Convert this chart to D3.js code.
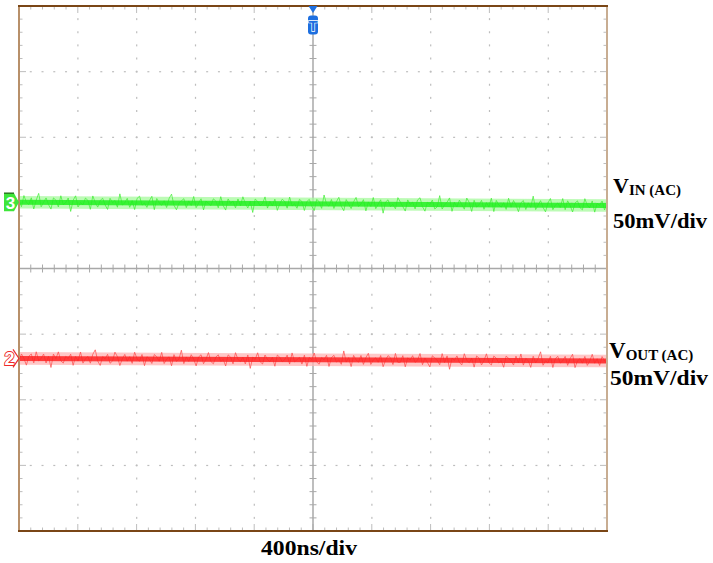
<!DOCTYPE html>
<html><head><meta charset="utf-8">
<script src="https://cdn.jsdelivr.net/npm/d3@7"></script>
<style>html,body{margin:0;padding:0;background:#fff;}svg{display:block;}</style>
</head><body>
<script>
// ---- data ----
const timeDomain = [-2000, 2000];          // ns, 400 ns/div, 10 divisions
const voltDomain = [-200, 200];            // mV, 50 mV/div, 8 divisions
const timeStep = 400, timeMinor = 80;
const voltStep = 50, voltMinor = 10;
const meanTimes = [-2000, 2000];
const vinMean = [50.5, 48];                // CH3 trace level (mV on screen)
const voutMean = [-68.5, -70.5];           // CH2 trace level
const vinNoise = [1,-2,3,0,-1,2,-3,1,4,-2,0,2,-1,-3,2,1,-2,3,-1,0,
 2,-4,1,3,-2,0,-1,2,1,-3,3,0,-2,1,2,-1,-3,2,0,1,
 -2,4,-1,0,2,-2,1,-3,2,3,-1,0,-2,1,3,-3,2,0,-1,1,
 -2,2,4,-1,-3,0,1,2,-2,1,-1,3,-2,0,2,-3,1,0,-1,2,
 1,-2,3,-1,-3,2,0,1,-2,2,-1,3,0,-2,1,-4,2,1,-1,0,
 3,-2,1,-1,2,-3,0,2,1,-2,3,-1,0,-2,2,1,-3,1,2,-1,
 -3,2,1,-2,4,0,-1,2,-2,1,3,-1,-3,2,0,-2,1,3,-1,0,
 2,-3,1,-1,3,-2,0,2,-4,1,2,-1,0,-2,3,1,-1,-3,2,0,
 1,-2,2,3,-1,-3,1,0,2,-2,-1,4,-2,0,1,3,-3,1,-1,2,
 0,-2,3,1,-3,2,-1,0,2,-2,1,-1,3,-3,2,0,-1,1,-2,3,
 -1,2,0,-3,1,2,-2,1,-1,4,-2,0,2,-1,-3,1,3,-2,0,1,
 -1,3,-2,2,0,-3,1,2,-1,-2,3,0,-1,2,-3,1,0,2,-2,1];
const voutNoise = [-1,2,0,-3,1,2,-2,3,-1,0,2,-2,1,-4,2,0,3,-1,-2,1,
 0,2,-3,1,-1,3,-2,0,1,-2,2,4,-1,-3,1,0,2,-2,-1,3,
 1,-3,0,2,-1,1,-2,3,0,-1,2,-3,1,0,-2,2,1,-1,3,-2,
 0,1,-3,2,-1,0,4,-2,1,-1,2,0,-3,1,2,-2,0,3,-1,-2,
 1,2,-1,0,-3,2,1,-2,3,0,-1,1,-2,2,-4,1,0,3,-1,-2,
 2,0,-1,1,-3,2,1,-1,0,2,-2,3,-1,0,1,-2,2,-3,1,0,
 3,-1,-2,1,0,2,-3,1,2,-1,0,-2,4,-1,1,-3,2,0,-1,2,
 -2,1,3,-2,0,1,-1,2,-3,0,2,1,-2,3,-1,-1,2,-3,1,0,
 2,-1,0,3,-2,1,-1,-3,2,1,0,-2,3,-1,2,-4,1,0,2,-1,
 -2,3,0,-1,1,-3,2,1,-2,0,3,-1,-2,2,1,-1,0,-3,2,1,
 0,-2,2,-1,3,-2,1,0,-3,2,-1,1,4,-2,0,-1,2,-3,1,2,
 -1,0,2,-2,1,3,-3,0,1,-1,2,-2,0,3,-1,1,-2,2,0,-1];
const labels = {vin:["V","IN (AC)"], vout:["V","OUT (AC)"], scale:"50mV/div", time:"400ns/div"};

// ---- drawing ----
const W = 713, H = 563;
const svg = d3.select("body").append("svg").attr("width", W).attr("height", H);
const x = d3.scaleLinear().domain(timeDomain).range([19, 607]);
const y = d3.scaleLinear().domain(voltDomain).range([531, 6]);

const majT = d3.range(timeDomain[0], timeDomain[1] + 1, timeStep);
const minT = d3.range(timeDomain[0], timeDomain[1] + 1, timeMinor);
const majV = d3.range(voltDomain[0], voltDomain[1] + 1, voltStep);
const minV = d3.range(voltDomain[0], voltDomain[1] + 1, voltMinor);

const grid = svg.append("g").attr("fill", "#bdbdbd");
majT.filter(t => t !== 0 && t !== timeDomain[0] && t !== timeDomain[1]).forEach(t => {
  minV.forEach(v => grid.append("rect").attr("x", x(t) - 0.5).attr("y", y(v) - 1).attr("width", 1.2).attr("height", 2));
});
majV.filter(v => v !== 0 && v !== voltDomain[0] && v !== voltDomain[1]).forEach(v => {
  minT.forEach(t => grid.append("rect").attr("x", x(t) - 1).attr("y", y(v) - 0.5).attr("width", 2).attr("height", 1.2));
});
const tk = svg.append("g").attr("stroke", "#bdbdbd").attr("stroke-width", 1);
minT.forEach(t => {
  const L = majT.includes(t) ? 7 : 3.5;
  tk.append("line").attr("x1", x(t)).attr("x2", x(t)).attr("y1", y(voltDomain[1])).attr("y2", y(voltDomain[1]) + L);
  tk.append("line").attr("x1", x(t)).attr("x2", x(t)).attr("y1", y(voltDomain[0])).attr("y2", y(voltDomain[0]) - L);
});
minV.forEach(v => {
  const L = majV.includes(v) ? 7 : 3.5;
  tk.append("line").attr("y1", y(v)).attr("y2", y(v)).attr("x1", x(timeDomain[0])).attr("x2", x(timeDomain[0]) + L);
  tk.append("line").attr("y1", y(v)).attr("y2", y(v)).attr("x1", x(timeDomain[1])).attr("x2", x(timeDomain[1]) - L);
});
const ax = svg.append("g").attr("stroke", "#a8a8a8");
ax.append("line").attr("x1", x(0)).attr("x2", x(0)).attr("y1", y(voltDomain[1])).attr("y2", y(voltDomain[0])).attr("stroke-width", 1.5);
ax.append("line").attr("y1", y(0)).attr("y2", y(0)).attr("x1", x(timeDomain[0])).attr("x2", x(timeDomain[1])).attr("stroke-width", 1.5);
minT.forEach(t => ax.append("line").attr("x1", x(t)).attr("x2", x(t)).attr("y1", y(0) - 4).attr("y2", y(0) + 4));
minV.forEach(v => ax.append("line").attr("y1", y(v)).attr("y2", y(v)).attr("x1", x(0) - 3.5).attr("x2", x(0) + 3.5));

// traces
function trace(noise, meanVals, light, mid, core) {
  const base = d3.scaleLinear().domain(meanTimes).range(meanVals);
  const tAt = d3.scaleLinear().domain([0, noise.length - 1]).range(timeDomain);
  const g = svg.append("g");
  g.append("path").datum(meanTimes)
    .attr("d", d3.area().x(t => x(t)).y0(t => y(base(t) - 4.8)).y1(t => y(base(t) + 4.8)))
    .attr("fill", light).attr("opacity", 0.75);
  g.append("path").datum(noise)
    .attr("d", d3.line().x((d, i) => x(tAt(i))).y((d, i) => y(base(tAt(i)) + d * 1.7)))
    .attr("fill", "none").attr("stroke", mid).attr("stroke-width", 0.9).attr("opacity", 0.85);
  g.append("path").datum(meanTimes)
    .attr("d", d3.line().x(t => x(t)).y(t => y(base(t))))
    .attr("fill", "none").attr("stroke", core).attr("stroke-width", 5).attr("opacity", 0.85);
}
trace(vinNoise, vinMean, "#a6fa9c", "#44ee38", "#22f020");
trace(voutNoise, voutMean, "#ffb4b4", "#ff5050", "#ff2222");

// border
svg.append("line").attr("x1", x(timeDomain[0])).attr("x2", x(timeDomain[0])).attr("y1", y(voltDomain[1])).attr("y2", y(voltDomain[0])).attr("stroke", "#b8906a").attr("stroke-width", 2);
svg.append("line").attr("x1", x(timeDomain[1])).attr("x2", x(timeDomain[1])).attr("y1", y(voltDomain[1])).attr("y2", y(voltDomain[0])).attr("stroke", "#c8ad92").attr("stroke-width", 2);
svg.append("line").attr("x1", x(timeDomain[0]) - 1).attr("x2", x(timeDomain[1]) + 1).attr("y1", y(voltDomain[1])).attr("y2", y(voltDomain[1])).attr("stroke", "#7a4616").attr("stroke-width", 2);
svg.append("line").attr("x1", x(timeDomain[0]) - 1).attr("x2", x(timeDomain[1]) + 1).attr("y1", y(voltDomain[0])).attr("y2", y(voltDomain[0])).attr("stroke", "#7a4616").attr("stroke-width", 2);

// channel markers
const y3 = y(vinMean[0]), y2 = y(voutMean[0]);
svg.append("path").attr("d", `M4,${y3 - 9} L14,${y3 - 9} L19,${y3} L14,${y3 + 9} L4,${y3 + 9} Z`).attr("fill", "#3ee63a");
svg.append("line").attr("x1", 4).attr("x2", 14).attr("y1", y3 - 9).attr("y2", y3 - 9).attr("stroke", "#2a7a22").attr("stroke-width", 1.5);
svg.append("text").attr("x", 10.5).attr("y", y3 + 6.5).attr("text-anchor", "middle").attr("fill", "#fff")
  .attr("font-family", "Liberation Sans, Arial").attr("font-weight", "bold").attr("font-size", 17).text("3");
svg.append("path").attr("d", `M13,${y2 - 9} L19,${y2} L13,${y2 + 9}`).attr("fill", "none").attr("stroke", "#e83030").attr("stroke-width", 1.2);
svg.append("text").attr("x", 9.5).attr("y", y2 + 7).attr("text-anchor", "middle").attr("fill", "#fff")
  .attr("stroke", "#ee2a2a").attr("stroke-width", 1.8).attr("paint-order", "stroke")
  .attr("font-family", "Liberation Sans, Arial").attr("font-weight", "bold").attr("font-size", 18).text("2");

// trigger marker
const tx = x(0);
svg.append("path").attr("d", `M${tx - 4.5},6 L${tx + 4.5},6 L${tx},13 Z`).attr("fill", "#1d6fe0");
svg.append("rect").attr("x", tx - 5).attr("y", 15.5).attr("width", 10).attr("height", 19).attr("rx", 3).attr("fill", "#1d6fe0");
svg.append("text").attr("x", tx).attr("y", 31).attr("text-anchor", "middle").attr("fill", "#1d6fe0")
  .attr("stroke", "#fff").attr("stroke-width", 1.4).attr("paint-order", "stroke")
  .attr("font-family", "Liberation Sans, Arial").attr("font-weight", "bold").attr("font-size", 15).text("T");

// labels
const serif = "Liberation Serif, Times New Roman, serif";
function vlabel(xp, yp, parts, fs, sfs) {
  const t = svg.append("text").attr("x", xp).attr("y", yp).attr("font-family", serif).attr("font-weight", "bold").attr("fill", "#000");
  t.append("tspan").attr("font-size", fs).text(parts[0]);
  t.append("tspan").attr("font-size", sfs).attr("dy", 2).text(parts[1]);
}
vlabel(613, 193, labels.vin, 22, 15);
svg.append("text").attr("x", 613).attr("y", 228).attr("font-family", serif).attr("font-weight", "bold").attr("font-size", 20)
  .attr("textLength", 94).attr("lengthAdjust", "spacingAndGlyphs").text(labels.scale);
vlabel(609, 358, labels.vout, 23, 15);
svg.append("text").attr("x", 610).attr("y", 385).attr("font-family", serif).attr("font-weight", "bold").attr("font-size", 20)
  .attr("textLength", 98).attr("lengthAdjust", "spacingAndGlyphs").text(labels.scale);
svg.append("text").attr("x", 261).attr("y", 555).attr("font-family", serif).attr("font-weight", "bold").attr("font-size", 22)
  .attr("textLength", 96).attr("lengthAdjust", "spacingAndGlyphs").text(labels.time);
</script>
</body></html>
